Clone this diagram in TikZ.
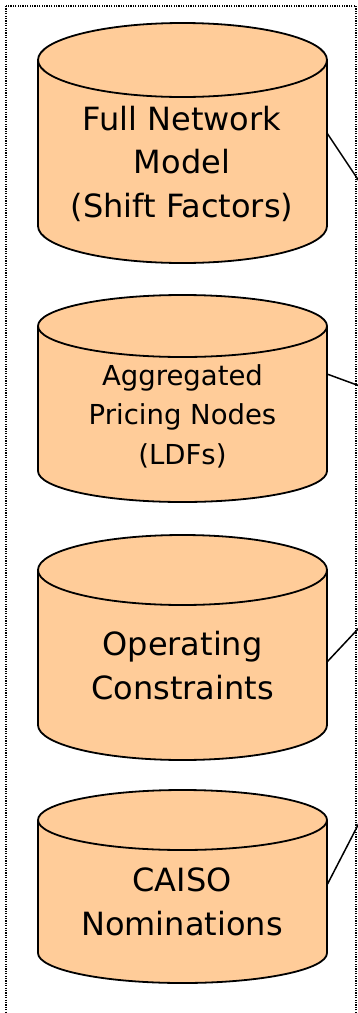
\documentclass[tikz,border=0pt]{standalone}
\usepackage{fontspec}
\setmainfont{DejaVu Sans}
\definecolor{peach}{HTML}{FFCC99}
\tikzset{
  cylfill/.style={fill=peach},
  cyledge/.style={draw=black, line width=1.8pt},
  frame/.style={draw=black, line width=1.8pt, dash pattern=on 1.2pt off 1.2pt},
  link/.style={draw=black, line width=1.5pt},
  bigtext/.style={align=center, inner sep=0pt, anchor=base, font=\fontsize{32}{43.5}\selectfont},
  smalltext/.style={align=center, inner sep=0pt, anchor=base, font=\fontsize{27.5}{39.5}\selectfont},
}
\newcommand\drumshape[3]{%
  \fill[cylfill] (38,#1) -- (38,#2) arc[start angle=180,end angle=0,x radius=144.5,y radius=#3] -- (327,#1) -- cycle;
  \draw[cyledge] (38,#1) -- (38,#2) arc[start angle=180,end angle=0,x radius=144.5,y radius=#3] -- (327,#1);
  \filldraw[cylfill,cyledge] (182.5,#1) ellipse[x radius=144.5,y radius=#3];
}
\begin{document}
\begin{tikzpicture}[x=1pt,y=-1pt]
\useasboundingbox (0,0) rectangle (358,1013);
\clip (0,0) rectangle (358,1013);
\draw[frame] (6,6) rectangle (356,1040);
\drumshape{60}{226}{37}
\drumshape{326}{471}{31}
\drumshape{570}{725}{35}
\drumshape{820}{953}{30}
\node[bigtext] (t1) at (182,217) {Full Network\\Model\\(Shift Factors)};
\node[smalltext] (t2) at (182.5,464) {Aggregated\\Pricing Nodes\\(LDFs)};
\node[bigtext] (t3) at (182.5,699) {Operating\\Constraints};
\node[bigtext] (t4) at (182,935) {CAISO\\Nominations};
\coordinate (c1r) at (327,133);
\coordinate (c2r) at (327,374);
\coordinate (c3r) at (327,662);
\coordinate (c4r) at (327,885);
\coordinate (f1) at (400,242.5);
\coordinate (f2) at (400,400.8);
\coordinate (f3) at (400,584.1);
\coordinate (f4) at (400,743.9);
\draw[link] (c1r) -- (f1);
\draw[link] (c2r) -- (f2);
\draw[link] (c3r) -- (f3);
\draw[link] (c4r) -- (f4);
\end{tikzpicture}
\end{document}
